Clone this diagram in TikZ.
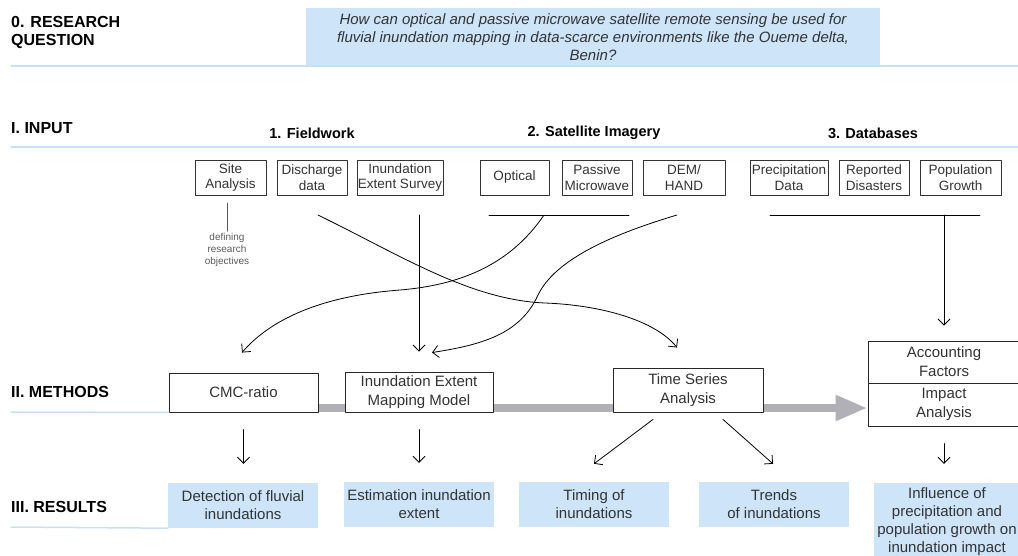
\documentclass[tikz,border=0pt]{standalone}
\usepackage{fontspec}
\setmainfont{Liberation Sans}
\usepackage{xcolor}
\usepackage{tikz}
\usetikzlibrary{calc,arrows.meta,positioning,backgrounds}

\definecolor{qblue}{RGB}{205,228,249}
\definecolor{ruleblue}{RGB}{200,224,246}
\definecolor{bargray}{RGB}{176,176,182}
\definecolor{boxtext}{RGB}{51,51,51}

\begin{document}
\begin{tikzpicture}[
  x=1pt,y=-1pt,
  line cap=round,
  line join=round,
  >={Straight Barb[length=6pt,width=12pt]},
  sechead/.style={font=\fontsize{16}{18}\selectfont\bfseries,align=left,anchor=west,inner sep=0pt},
  grouphead/.style={font=\fontsize{14.5}{17}\selectfont\bfseries,inner sep=0pt},
  inbox/.style={draw=boxtext,line width=0.8pt,text=boxtext,font=\fontsize{13.5}{15.5}\selectfont,
    align=center,minimum height=35,inner xsep=1pt,inner ysep=1pt},
  methbox/.style={draw=black!85,line width=0.9pt,fill=white,text=boxtext,
    font=\fontsize{15}{19}\selectfont,align=center,minimum width=149,inner sep=1pt},
  resbox/.style={fill=qblue,text=boxtext,font=\fontsize{15}{18}\selectfont,align=center,
    minimum width=150,minimum height=45,inner sep=1pt},
  sectionrule/.style={ruleblue,line width=1.5pt},
  link/.style={black,line width=0.8pt},
  flowbar/.style={bargray,line width=8pt,line cap=butt,-{Triangle[length=32pt,width=24pt]}}
]
\useasboundingbox (0,0) rectangle (1018,555);

\node[sechead] (rqhead) at (11,32.5) {0. RESEARCH\\QUESTION};
\node[fill=qblue,minimum width=574,minimum height=58,inner sep=0pt,text=boxtext,
  font=\fontsize{15}{18}\selectfont\itshape,align=center] (rq) at (593,37)
  {How can optical and passive microwave satellite remote sensing be used for\\
   fluvial inundation mapping in data-scarce environments like the Oueme delta,\\
   Benin?};
\draw[sectionrule] (11,66) -- (1018,66);

\node[sechead] (inhead) at (11,128.5) {I. INPUT};
\draw[sectionrule] (11,147) -- (1018,147);
\node[grouphead] (fieldwork) at (312,133) {1. Fieldwork};
\node[grouphead] (satimg) at (594,133) {2. Satellite Imagery};
\node[grouphead] (databases) at (873,133) {3. Databases};

\node[inbox,minimum width=71] (site) at (230.5,177.5) {Site\\Analysis};
\node[inbox,minimum width=70] (discharge) at (312,177.5) {Discharge\\data};
\node[inbox,minimum width=84] (survey) at (400,177.5) {Inundation\\Extent Survey};
\node[inbox,minimum width=69] (optical) at (514.5,177.5) {Optical};
\node[inbox,minimum width=70] (passive) at (597,177.5) {Passive\\Microwave};
\node[inbox,minimum width=82] (dem) at (684,177.5) {DEM/\\HAND};
\node[inbox,minimum width=78] (precip) at (789,177.5) {Precipitation\\Data};
\node[inbox,minimum width=70] (reported) at (874,177.5) {Reported\\Disasters};
\node[inbox,minimum width=81] (popgrowth) at (960.5,177.5) {Population\\Growth};

\node[text=black!65,font=\fontsize{10}{12}\selectfont,align=center,inner sep=2pt]
  (defobj) at (227,250) {defining\\research\\objectives};
\draw[black!65,line width=0.8pt] (defobj.north) -- ++(0,-28);

\coordinate (fieldout) at (318,215);
\coordinate (surveyout) at (419,215);
\coordinate (satL) at (489,215);
\coordinate (satR) at (629,215);
\coordinate (satout) at (544,215);
\coordinate (demout) at (677,215);
\coordinate (dbL) at (770,215);
\coordinate (dbR) at (980,215);
\coordinate (dbout) at (944,215);
\draw[link] (satL) -- (satR);
\draw[link] (dbL) -- (dbR);

\node[sechead] (methhead) at (11,392) {II. METHODS};
\node[methbox,minimum height=39] (cmc) at (243.5,392.5) {CMC-ratio};
\node[methbox,minimum width=148,minimum height=40] (iem) at (419,392) {Inundation Extent\\Mapping Model};
\node[methbox,minimum width=150,minimum height=44] (tsa) at (688,390) {Time Series\\Analysis};
\node[methbox,minimum width=152,minimum height=42] (acc) at (944,362) {Accounting\\Factors};
\node[methbox,minimum width=152,minimum height=43,below=-0.9pt of acc] (impact) {Impact\\Analysis};
\draw[sectionrule] (11,412) -- (cmc.south west);

\coordinate (barlevel) at (0,408);
\begin{scope}[on background layer]
  \draw[flowbar] (cmc.east |- barlevel) -- (impact.west |- barlevel);
\end{scope}

\node[sechead] (reshead) at (11,507) {III. RESULTS};
\node[resbox] (detect) at (243,505.5) {Detection of fluvial\\inundations};
\node[resbox] (estim) at (419,504.5) {Estimation inundation\\extent};
\node[resbox] (timing) at (594,504.5) {Timing of\\inundations};
\node[resbox] (trends) at (774,504.5) {Trends\\of inundations};
\node[resbox,minimum width=146,minimum height=77] (influence) at (947,521.5)
  {Influence of\\precipitation and\\population growth on\\inundation impact};
\draw[sectionrule] (11,527) -- (detect.south west);

\draw[link,->,shorten >=20] (surveyout) -- (iem.north);
\draw[link,->,shorten >=15] (dbout) -- (acc.north);
\draw[link,->] (satout) .. controls (510,265) and (460,285) .. (400,290)
  .. controls (320,296) and (270,320) .. ($(cmc.north)+(-1.5,-20)$);
\draw[link,->] (demout) .. controls (610,235) and (555,260) .. (538,295)
  .. controls (520,335) and (480,345) .. ($(iem.north)+(13,-19)$);
\draw[link,->] (fieldout) .. controls (400,255) and (470,300) .. (545,303)
  .. controls (600,305) and (655,320) .. ($(tsa.north)+(-11,-20)$);

\draw[link,->,shorten <=17,shorten >=19] (cmc.south) -- (cmc.south |- detect.north);
\draw[link,->,shorten <=17,shorten >=19] (iem.south) -- (iem.south |- estim.north);
\draw[link,->,shorten <=17,shorten >=19] (impact.south) -- (impact.south |- influence.north);
\draw[link,->] ($(tsa.south)+(-35,7)$) -- ($(timing.north)+(0,-18)$);
\draw[link,->] ($(tsa.south)+(35,7)$) -- ($(trends.north)+(-1,-18)$);
\end{tikzpicture}
\end{document}
